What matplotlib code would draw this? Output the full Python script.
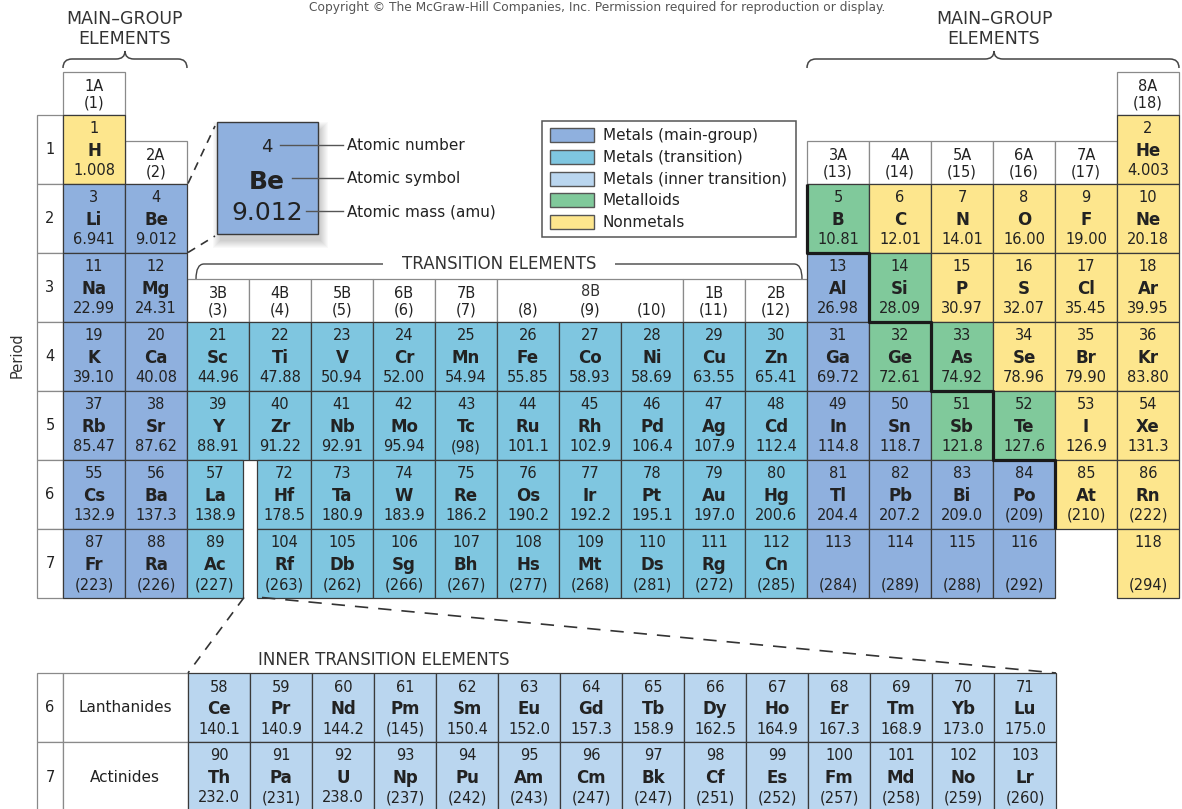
import matplotlib.pyplot as plt
from matplotlib.patches import Rectangle, PathPatch
from matplotlib.path import Path

# ---- data ------------------------------------------------------------
main_symbols = [
    'H', 'He',
    'Li', 'Be', 'B', 'C', 'N', 'O', 'F', 'Ne',
    'Na', 'Mg', 'Al', 'Si', 'P', 'S', 'Cl', 'Ar',
    'K', 'Ca', 'Sc', 'Ti', 'V', 'Cr', 'Mn', 'Fe', 'Co', 'Ni', 'Cu', 'Zn', 'Ga', 'Ge', 'As', 'Se', 'Br', 'Kr',
    'Rb', 'Sr', 'Y', 'Zr', 'Nb', 'Mo', 'Tc', 'Ru', 'Rh', 'Pd', 'Ag', 'Cd', 'In', 'Sn', 'Sb', 'Te', 'I', 'Xe',
    'Cs', 'Ba', 'La', 'Hf', 'Ta', 'W', 'Re', 'Os', 'Ir', 'Pt', 'Au', 'Hg', 'Tl', 'Pb', 'Bi', 'Po', 'At', 'Rn',
    'Fr', 'Ra', 'Ac', 'Rf', 'Db', 'Sg', 'Bh', 'Hs', 'Mt', 'Ds', 'Rg', 'Cn', '', '', '', '', '']
main_numbers = [
    1, 2,
    3, 4, 5, 6, 7, 8, 9, 10,
    11, 12, 13, 14, 15, 16, 17, 18,
    19, 20, 21, 22, 23, 24, 25, 26, 27, 28, 29, 30, 31, 32, 33, 34, 35, 36,
    37, 38, 39, 40, 41, 42, 43, 44, 45, 46, 47, 48, 49, 50, 51, 52, 53, 54,
    55, 56, 57, 72, 73, 74, 75, 76, 77, 78, 79, 80, 81, 82, 83, 84, 85, 86,
    87, 88, 89, 104, 105, 106, 107, 108, 109, 110, 111, 112, 113, 114, 115, 116, 118]
main_masses = [
    '1.008', '4.003',
    '6.941', '9.012', '10.81', '12.01', '14.01', '16.00', '19.00', '20.18',
    '22.99', '24.31', '26.98', '28.09', '30.97', '32.07', '35.45', '39.95',
    '39.10', '40.08', '44.96', '47.88', '50.94', '52.00', '54.94', '55.85', '58.93', '58.69',
    '63.55', '65.41', '69.72', '72.61', '74.92', '78.96', '79.90', '83.80',
    '85.47', '87.62', '88.91', '91.22', '92.91', '95.94', '(98)', '101.1', '102.9', '106.4',
    '107.9', '112.4', '114.8', '118.7', '121.8', '127.6', '126.9', '131.3',
    '132.9', '137.3', '138.9', '178.5', '180.9', '183.9', '186.2', '190.2', '192.2', '195.1',
    '197.0', '200.6', '204.4', '207.2', '209.0', '(209)', '(210)', '(222)',
    '(223)', '(226)', '(227)', '(263)', '(262)', '(266)', '(267)', '(277)', '(268)', '(281)',
    '(272)', '(285)', '(284)', '(289)', '(288)', '(292)', '(294)']
main_periods = [1] * 2 + [2] * 8 + [3] * 8 + [4] * 18 + [5] * 18 + [6] * 18 + [7] * 17
main_groups = ([1, 18] + [1, 2] + list(range(13, 19)) + [1, 2] + list(range(13, 19))
               + list(range(1, 19)) * 3 + list(range(1, 17)) + [18])
# M = main-group metal, T = transition, D = metalloid, N = nonmetal
main_kinds = (['N', 'N']
              + ['M', 'M', 'D', 'N', 'N', 'N', 'N', 'N']
              + ['M', 'M', 'M', 'D', 'N', 'N', 'N', 'N']
              + ['M', 'M'] + ['T'] * 10 + ['M', 'D', 'D', 'N', 'N', 'N']
              + ['M', 'M'] + ['T'] * 10 + ['M', 'M', 'D', 'D', 'N', 'N']
              + ['M', 'M'] + ['T'] * 10 + ['M', 'M', 'M', 'M', 'N', 'N']
              + ['M', 'M'] + ['T'] * 10 + ['M', 'M', 'M', 'M', 'N'])

lan_symbols = ['Ce', 'Pr', 'Nd', 'Pm', 'Sm', 'Eu', 'Gd', 'Tb', 'Dy', 'Ho', 'Er', 'Tm', 'Yb', 'Lu']
lan_numbers = list(range(58, 72))
lan_masses = ['140.1', '140.9', '144.2', '(145)', '150.4', '152.0', '157.3', '158.9',
              '162.5', '164.9', '167.3', '168.9', '173.0', '175.0']
act_symbols = ['Th', 'Pa', 'U', 'Np', 'Pu', 'Am', 'Cm', 'Bk', 'Cf', 'Es', 'Fm', 'Md', 'No', 'Lr']
act_numbers = list(range(90, 104))
act_masses = ['232.0', '(231)', '238.0', '(237)', '(242)', '(243)', '(247)', '(247)',
              '(251)', '(252)', '(257)', '(258)', '(259)', '(260)']

header_top = ['1A', '2A', '3B', '4B', '5B', '6B', '7B', '', '', '', '1B', '2B',
              '3A', '4A', '5A', '6A', '7A', '8A']
header_bot = ['(%d)' % g for g in range(1, 19)]

legend_labels = ['Metals (main-group)', 'Metals (transition)', 'Metals (inner transition)',
                 'Metalloids', 'Nonmetals']
legend_kinds = ['M', 'T', 'I', 'D', 'N']

colors = {'M': '#8fb0de', 'T': '#7fc6e0', 'I': '#bad6ef', 'D': '#80c99b', 'N': '#fde68d'}
TXT = '#222222'
GRID = '#3a3a3a'
LIGHT = '#8a8a8a'

plt.rcParams['font.family'] = ['DejaVu Sans']

fig = plt.figure(figsize=(11.82, 8.09), dpi=100)
ax = fig.add_axes([0, 0, 1, 1])
ax.set_xlim(0, 1182)
ax.set_ylim(809, 0)
ax.axis('off')

X0, CW = 63, 62
Y0, RH = 114.5, 69


def cell_box(g, p):
    x, w = X0 + (g - 1) * CW, CW
    if p >= 6 and g == 3:
        w = 56
    if p >= 6 and g == 4:
        x, w = 257, X0 + 4 * CW - 257
    return x, w


def element(x, y, w, num, sym, mass, fc):
    ax.add_patch(Rectangle((x, y), w, RH, fc=fc, ec=GRID, lw=0.9, zorder=2))
    cx = x + w / 2
    ax.text(cx, y + 18.5, str(num), ha='center', va='baseline', fontsize=10.5, color=TXT, zorder=3)
    if sym:
        ax.text(cx, y + 41, sym, ha='center', va='baseline', fontsize=12, fontweight='bold',
                color=TXT, zorder=3)
    ax.text(cx, y + 60.5, mass, ha='center', va='baseline', fontsize=10.5, color=TXT, zorder=3)


def curly(x0, x1, xc, ytop, ybot, ycusp):
    verts = [(x0, ybot), (x0, ytop), (x0 + 9, ytop), (xc - 9, ytop), (xc, ytop), (xc, ycusp),
             (xc, ytop), (xc + 9, ytop), (x1 - 9, ytop), (x1, ytop), (x1, ybot)]
    codes = [Path.MOVETO, Path.CURVE3, Path.CURVE3, Path.LINETO, Path.CURVE3, Path.CURVE3,
             Path.CURVE3, Path.CURVE3, Path.LINETO, Path.CURVE3, Path.CURVE3]
    ax.add_patch(PathPatch(Path(verts, codes), fc='none', ec='#444444', lw=1.1))


def bracket(x0, x1, y, ybot, gap0, gap1):
    for pts in ([(x0, ybot), (x0, y), (x0 + 8, y), (gap0, y)],
                [(gap1, y), (x1 - 8, y), (x1, y), (x1, ybot)]):
        if pts[0][1] == ybot:
            codes = [Path.MOVETO, Path.CURVE3, Path.CURVE3, Path.LINETO]
        else:
            codes = [Path.MOVETO, Path.LINETO, Path.CURVE3, Path.CURVE3]
        ax.add_patch(PathPatch(Path(pts, codes), fc='none', ec='#444444', lw=1.0))


# copyright line at the top edge
ax.text(597, 0.5, 'Copyright \u00a9 The McGraw-Hill Companies, Inc. Permission required for '
        'reproduction or display.', ha='center', va='top', fontsize=8.8, color='#555555')

# main-group headings
for xc, x0, x1 in [(125, 63, 187), (994, 807, 1179)]:
    ax.text(xc, 24, 'MAIN\u2013GROUP', ha='center', va='baseline', fontsize=12.5, color='#333333')
    ax.text(xc, 44, 'ELEMENTS', ha='center', va='baseline', fontsize=12.5, color='#333333')
    curly(x0, x1, xc, 59, 68, 51)

# transition heading
bracket(196, 802, 264, 279, 383, 615)
ax.text(499, 264, 'TRANSITION ELEMENTS', ha='center', va='center', fontsize=12, color='#333333')
bracket(503, 678, 291, 302, 573, 610)
ax.text(591, 291, '8B', ha='center', va='center', fontsize=10.5, color='#333333')

# group headers
for g in range(1, 19):
    x = X0 + (g - 1) * CW
    if g in (1, 18):
        y = 71.5
    elif g in (2, 13, 14, 15, 16, 17):
        y = 140.5
    else:
        y = 278.5
    if g in (8, 9, 10):
        if g == 8:
            ax.add_patch(Rectangle((x, y), 3 * CW, 43, fc='white', ec=LIGHT, lw=0.9, zorder=1))
    else:
        ax.add_patch(Rectangle((x, y), CW, 43, fc='white', ec=LIGHT, lw=0.9, zorder=1))
        ax.text(x + CW / 2, y + 19.5, header_top[g - 1], ha='center', va='baseline',
                fontsize=10.5, color=TXT, zorder=3)
    ax.text(x + CW / 2, y + 36, header_bot[g - 1], ha='center', va='baseline',
            fontsize=10.5, color=TXT, zorder=3)

# period column
for p in range(1, 8):
    y = Y0 + (p - 1) * RH
    ax.add_patch(Rectangle((37, y), 26, RH, fc='white', ec=LIGHT, lw=0.9, zorder=1))
    ax.text(50, y + RH / 2 + 5, str(p), ha='center', va='baseline', fontsize=10.5, color=TXT)
ax.text(17, 355, 'Period', ha='center', va='center', rotation=90, fontsize=10.5, color='#333333')

# main table
for sym, num, mass, p, g, k in zip(main_symbols, main_numbers, main_masses,
                                   main_periods, main_groups, main_kinds):
    x, w = cell_box(g, p)
    element(x, Y0 + (p - 1) * RH, w, num, sym, mass, colors[k])

# metalloid staircase
stair_x = [X0 + 12 * CW, X0 + 12 * CW, X0 + 13 * CW, X0 + 13 * CW, X0 + 14 * CW, X0 + 14 * CW,
           X0 + 15 * CW, X0 + 15 * CW, X0 + 16 * CW, X0 + 16 * CW]
stair_y = [Y0 + RH, Y0 + 2 * RH, Y0 + 2 * RH, Y0 + 3 * RH, Y0 + 3 * RH, Y0 + 4 * RH,
           Y0 + 4 * RH, Y0 + 5 * RH, Y0 + 5 * RH, Y0 + 6 * RH]
ax.plot(stair_x, stair_y, color='#1a1a1a', lw=2.3, zorder=4, solid_capstyle='butt')

# enlarged Be key
for k in range(8):
    ax.add_patch(Rectangle((217 + 3 - k, 122 + 7 - k), 101 + 2 * k, 112 + 2 * k,
                           fc='#000000', ec='none', alpha=0.025, zorder=1))
ax.add_patch(Rectangle((217, 122), 101, 112, fc=colors['M'], ec=GRID, lw=1.0, zorder=2))
ax.text(267, 151.5, '4', ha='center', va='baseline', fontsize=13, color=TXT, zorder=3)
ax.text(267, 189, 'Be', ha='center', va='baseline', fontsize=18, fontweight='bold', color=TXT, zorder=3)
ax.text(267, 219.5, '9.012', ha='center', va='baseline', fontsize=18, color=TXT, zorder=3)
for x_start, y, lab in [(280, 145, 'Atomic number'), (292, 178, 'Atomic symbol'),
                        (306, 211, 'Atomic mass (amu)')]:
    ax.plot([x_start, 343], [y, y], color='#555555', lw=1.0, zorder=3)
    ax.text(347, y + 5, lab, ha='left', va='baseline', fontsize=11, color=TXT)
ax.plot([188, 215], [183.5, 126], color='#333333', lw=1.2, dashes=(5, 4))
ax.plot([188, 215], [252.5, 236], color='#333333', lw=1.2, dashes=(5, 4))

# legend
ax.add_patch(Rectangle((542, 121), 254, 116, fc='white', ec='#555555', lw=1.1, zorder=1))
for i, (lab, k) in enumerate(zip(legend_labels, legend_kinds)):
    yc = 135 + i * 21.8
    ax.add_patch(Rectangle((550, yc - 7), 44, 14, fc=colors[k], ec='#555555', lw=1.0, zorder=2))
    ax.text(603, yc + 5, lab, ha='left', va='baseline', fontsize=11, color=TXT)

# dashed lines to the inner transition block
IY = 673
ax.plot([244, 188], [Y0 + 7 * RH, IY], color='#333333', lw=1.2, dashes=(6, 5))
ax.plot([262, 1056], [Y0 + 7 * RH, IY], color='#333333', lw=1.2, dashes=(8, 6))
ax.text(384, 660, 'INNER TRANSITION ELEMENTS', ha='center', va='center', fontsize=12, color='#333333')

for r, (p, lab, syms, nums, masses) in enumerate([(6, 'Lanthanides', lan_symbols, lan_numbers, lan_masses),
                                                  (7, 'Actinides', act_symbols, act_numbers, act_masses)]):
    y = IY + r * RH
    ax.add_patch(Rectangle((37, y), 26, RH, fc='white', ec=LIGHT, lw=0.9, zorder=1))
    ax.add_patch(Rectangle((63, y), 125, RH, fc='white', ec=LIGHT, lw=0.9, zorder=1))
    ax.text(50, y + RH / 2 + 5, str(p), ha='center', va='baseline', fontsize=10.5, color=TXT)
    ax.text(125, y + RH / 2 + 5, lab, ha='center', va='baseline', fontsize=11, color=TXT)
    for i, (s, n, m) in enumerate(zip(syms, nums, masses)):
        element(188 + i * CW, y, CW, n, s, m, colors['I'])

fig.savefig('out.png', dpi=100)
